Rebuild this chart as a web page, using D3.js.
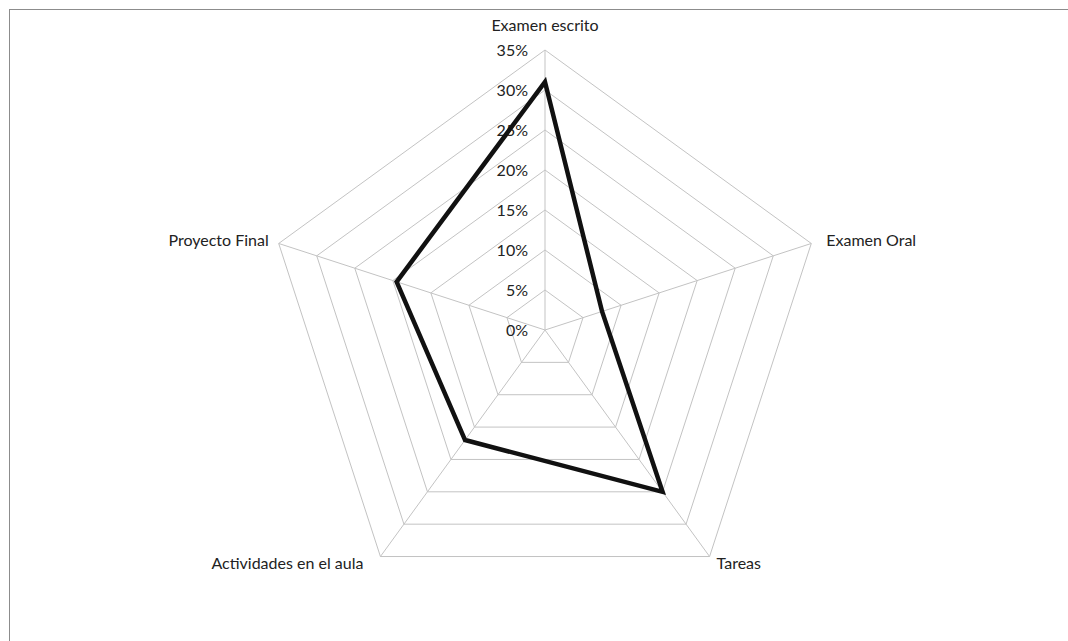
<!DOCTYPE html>
<html>
<head>
<meta charset="utf-8">
<script src="https://cdn.jsdelivr.net/npm/d3@7"></script>
<style>
  body { margin: 0; background: #fff; }
  svg text { font-family: Lato, "Open Sans", sans-serif; font-size: 16px; fill: #222; }
</style>
</head>
<body>
<div id="chart"></div>
<script>
const categories = ["Examen escrito", "Examen Oral", "Tareas", "Actividades en el aula", "Proyecto Final"];
const values = [0.31, 0.075, 0.25, 0.17, 0.195];
const tickValues = [0, 0.05, 0.10, 0.15, 0.20, 0.25, 0.30, 0.35];

const width = 1068, height = 641;
const cx = 545, cy = 330, R = 280;

const svg = d3.select("#chart")
    .append("svg")
    .attr("width", width)
    .attr("height", height);

// Rahmen (nur oben/links sichtbar)
svg.append("rect")
    .attr("x", 9.5).attr("y", 9.5)
    .attr("width", 1200).attr("height", 800)
    .attr("fill", "none")
    .attr("stroke", "#8c8c8c")
    .attr("stroke-width", 1);

const r = d3.scaleLinear().domain([0, 0.35]).range([0, R]);
const angle = d3.scalePoint().domain(categories).range([0, 2 * Math.PI * 4 / 5]);

const pt = (cat, v) => {
    const a = angle(cat);
    return [cx + r(v) * Math.sin(a), cy - r(v) * Math.cos(a)];
};

const g = svg.append("g");

// Ringe
g.selectAll("polygon.ring")
    .data(tickValues.slice(1))
    .enter()
    .append("polygon")
    .attr("class", "ring")
    .attr("points", t => categories.map(c => pt(c, t).join(",")).join(" "))
    .attr("fill", "none")
    .attr("stroke", "#c3c3c3")
    .attr("stroke-width", 1);

// Achsen
g.selectAll("line.axis")
    .data(categories)
    .enter()
    .append("line")
    .attr("class", "axis")
    .attr("x1", cx).attr("y1", cy)
    .attr("x2", c => pt(c, 0.35)[0])
    .attr("y2", c => pt(c, 0.35)[1])
    .attr("stroke", "#c3c3c3")
    .attr("stroke-width", 1);

// Tick-Beschriftung
g.selectAll("text.tick")
    .data(tickValues)
    .enter()
    .append("text")
    .attr("class", "tick")
    .attr("x", cx - 17)
    .attr("y", t => cy - r(t))
    .attr("dy", "0.35em")
    .attr("text-anchor", "end")
    .text(d3.format(".0%"));

// Datenlinie
const line = d3.line().curve(d3.curveLinearClosed);
g.append("path")
    .attr("d", line(categories.map((c, i) => pt(c, values[i]))))
    .attr("fill", "none")
    .attr("stroke", "#111")
    .attr("stroke-width", 4.5)
    .attr("stroke-linejoin", "miter");

// Kategorie-Beschriftung
const labelPos = c => {
    const [x, y] = pt(c, 0.35);
    if (Math.abs(x - cx) < 1) return [x, y - 25, "middle"];
    if (y < cy) return x < cx ? [x - 10, y - 3, "end"] : [x + 15, y - 3, "start"];
    return x < cx ? [x - 17, y + 7, "end"] : [x + 7, y + 7, "start"];
};

g.selectAll("text.cat")
    .data(categories)
    .enter()
    .append("text")
    .attr("class", "cat")
    .attr("x", c => labelPos(c)[0])
    .attr("y", c => labelPos(c)[1])
    .attr("dy", "0.35em")
    .attr("text-anchor", c => labelPos(c)[2])
    .text(c => c);
</script>
</body>
</html>
